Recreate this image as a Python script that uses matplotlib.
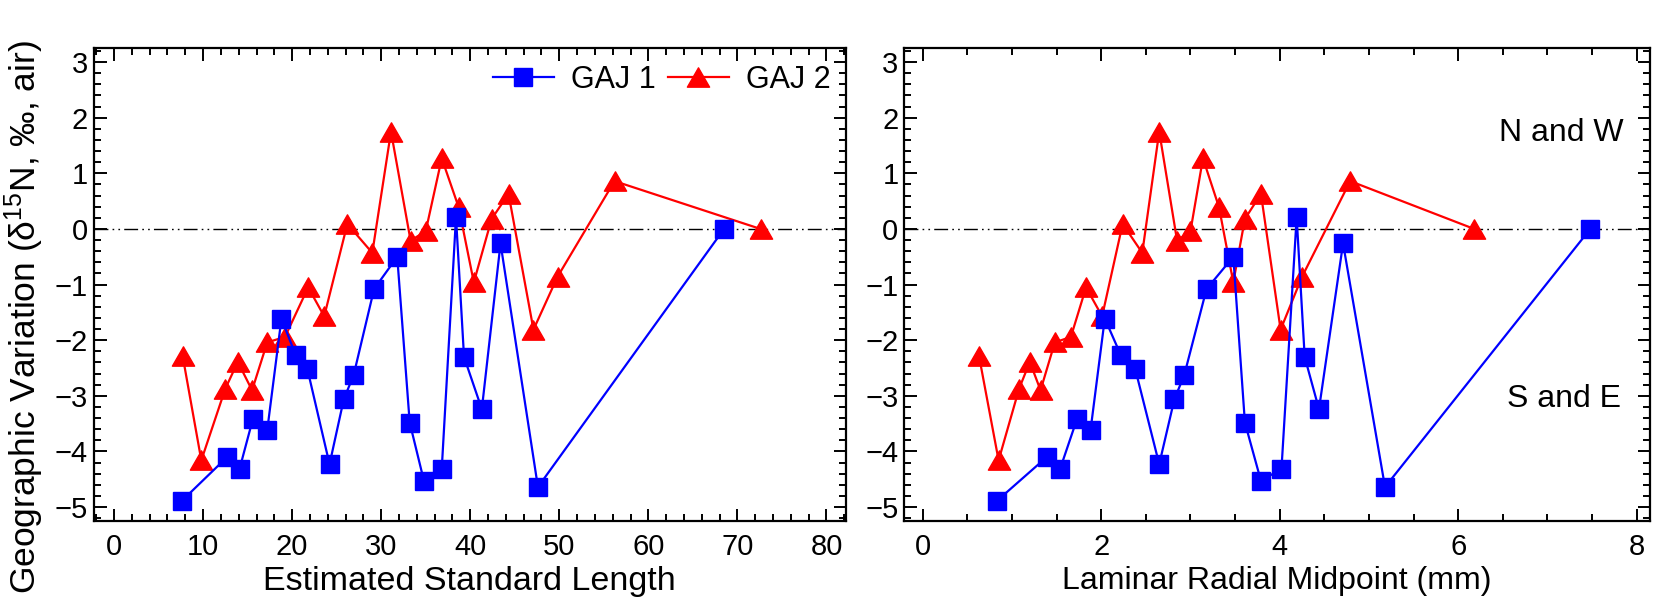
import matplotlib.pyplot as plt
from matplotlib.path import Path
from matplotlib.ticker import MultipleLocator

# GAJ 1 (blue squares)
length_gaj1 = [7.6, 12.7, 14.1, 15.6, 17.2, 18.8, 20.4, 21.7, 24.2, 25.8, 26.9,
               29.2, 31.8, 33.2, 34.8, 36.8, 38.4, 39.3, 41.3, 43.4, 47.6, 68.5]
radial_gaj1 = [0.83, 1.39, 1.54, 1.73, 1.88, 2.04, 2.22, 2.38, 2.65, 2.82, 2.93,
               3.18, 3.48, 3.61, 3.79, 4.02, 4.19, 4.28, 4.44, 4.71, 5.18, 7.48]
var_gaj1 = [-4.89, -4.10, -4.31, -3.41, -3.62, -1.61, -2.27, -2.51, -4.23, -3.06, -2.63,
            -1.08, -0.50, -3.48, -4.53, -4.31, 0.21, -2.30, -3.24, -0.26, -4.64, 0.00]

# GAJ 2 (red triangles)
length_gaj2 = [7.7, 9.8, 12.5, 13.9, 15.5, 17.2, 19.2, 21.8, 23.6, 26.2, 29.0, 31.1,
               33.3, 35.0, 36.8, 38.7, 40.4, 42.4, 44.3, 47.1, 49.8, 56.2, 72.6]
radial_gaj2 = [0.63, 0.85, 1.08, 1.20, 1.32, 1.48, 1.66, 1.83, 2.01, 2.24, 2.46, 2.65,
               2.85, 3.00, 3.14, 3.32, 3.48, 3.61, 3.79, 4.01, 4.25, 4.79, 6.18]
var_gaj2 = [-2.28, -4.16, -2.87, -2.39, -2.90, -2.04, -1.94, -1.05, -1.57, 0.09, -0.43, 1.75,
            -0.21, -0.04, 1.27, 0.39, -0.96, 0.18, 0.63, -1.81, -0.86, 0.86, 0.00]

plt.rcParams["font.family"] = ["Liberation Sans", "DejaVu Sans"]
plt.rcParams["mathtext.fontset"] = "custom"
plt.rcParams["mathtext.rm"] = "Liberation Sans"
plt.rcParams["mathtext.it"] = "Liberation Sans:italic"

# triangle marker, wider than tall, centred on its bounding box
tri = Path([(-1, -0.87), (1, -0.87), (0, 0.87), (-1, -0.87)],
           [Path.MOVETO, Path.LINETO, Path.LINETO, Path.CLOSEPOLY])

fig = plt.figure(figsize=(16.56, 6), dpi=100)
ax1 = fig.add_axes([0.0565, 0.1317, 0.4544, 0.788])
ax2 = fig.add_axes([0.5459, 0.1317, 0.4505, 0.788])


def style_axes(ax, xmajor, xminor):
    ax.xaxis.set_major_locator(MultipleLocator(xmajor))
    ax.xaxis.set_minor_locator(MultipleLocator(xminor))
    ax.yaxis.set_major_locator(MultipleLocator(1))
    ax.yaxis.set_minor_locator(MultipleLocator(0.2))
    ax.tick_params(which="both", direction="in", top=True, right=True, width=1.4,
                   labelsize=21, colors="black")
    ax.tick_params(which="major", length=9)
    ax.tick_params(which="minor", length=5)
    ax.tick_params(axis="x", pad=9)
    ax.tick_params(axis="y", pad=4)
    for s in ax.spines.values():
        s.set_linewidth(1.6)
    ax.set_ylim(-5.25, 3.25)
    ax.axhline(0, color="black", lw=1.0, dashes=(10, 3, 1.2, 3, 1.2, 3), zorder=1)


def plot_series(ax, x1, x2):
    ax.plot(x2, var_gaj2, color="#ff0000", lw=1.6, marker=tri, ms=16,
            mec="#ff0000", mfc="#ff0000", label="GAJ 2", zorder=2)
    ax.plot(x1, var_gaj1, color="#0000ff", lw=1.6, marker="s", ms=13.5,
            mec="#0000ff", mfc="#0000ff", label="GAJ 1", zorder=3)


plot_series(ax1, length_gaj1, length_gaj2)
style_axes(ax1, 10, 2)
ax1.set_xlim(-2.3, 82.2)
ax1.set_xlabel("Estimated Standard Length", fontsize=24.5, labelpad=3)
ax1.set_ylabel("Geographic Variation (δ$^{15}$N, ‰, air)", fontsize=25.5)
ax1.yaxis.set_label_coords(-0.063, 0.43)

handles, labels = ax1.get_legend_handles_labels()
ax1.legend(handles[::-1], labels[::-1], loc="upper right", ncol=2, frameon=False,
           fontsize=22, handlelength=2.0, handletextpad=0.55, columnspacing=0.4,
           borderpad=0, borderaxespad=0, bbox_to_anchor=(0.979, 0.965))

plot_series(ax2, radial_gaj1, radial_gaj2)
style_axes(ax2, 2, 0.5)
ax2.set_xlim(-0.21, 8.15)
ax2.set_xlabel("Laminar Radial Midpoint (mm)", fontsize=23, labelpad=3)
ax2.text(7.85, 1.72, "N and W", fontsize=23, ha="right", va="center")
ax2.text(7.82, -3.05, "S and E", fontsize=23, ha="right", va="center")

fig.savefig("out.png", dpi=100)
